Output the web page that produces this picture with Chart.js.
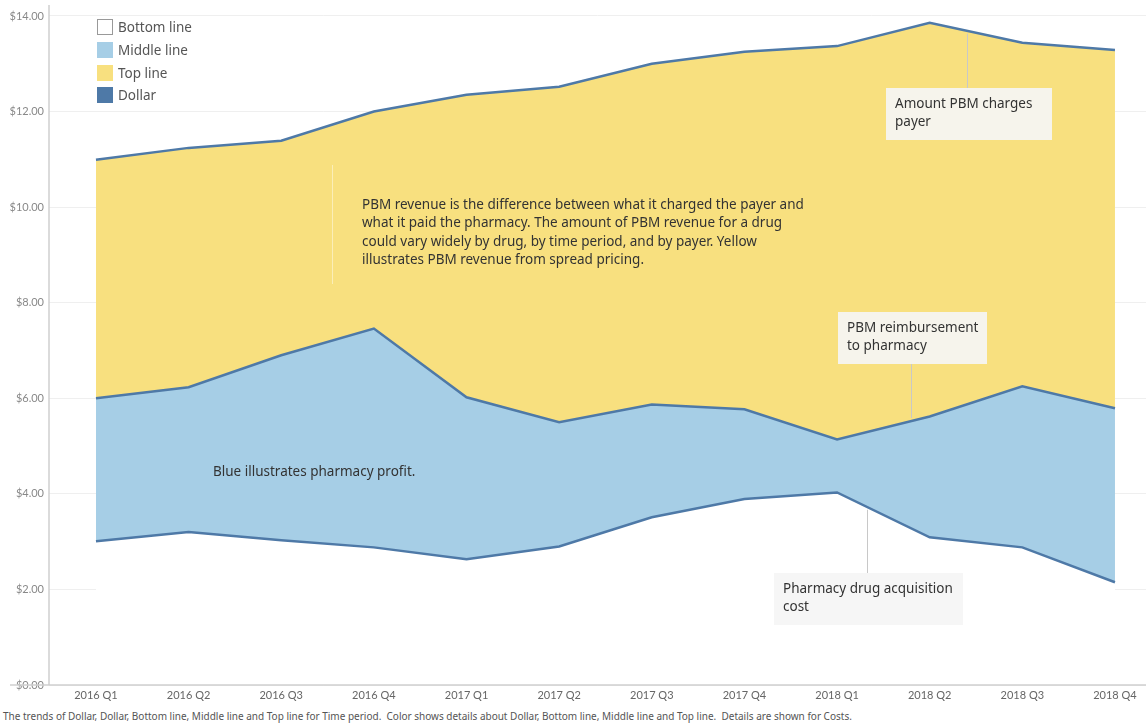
<!DOCTYPE html>
<html>
<head>
<meta charset="utf-8">
<script src="https://cdn.jsdelivr.net/npm/chart.js@4"></script>
<style>
  body { margin: 0; background: #fff; font-family: "Noto Sans", Lato, sans-serif; }
  #wrap { position: relative; width: 1148px; height: 723px; overflow: hidden; }
  #chartBox { position: absolute; left: 0; top: 0; width: 1148px; height: 705px; }
  #chartBox canvas { display: block; }
  .legend { position: absolute; left: 97px; top: 16px; font-size: 13.5px; color: #555; }
  .legend div { height: 22.7px; display: flex; align-items: center; }
  .legend span.sw { width: 16px; height: 16px; margin-right: 5px; box-sizing: border-box; }
  .note { position: absolute; font-size: 13.5px; line-height: 18.3px; color: #333; box-sizing: border-box; white-space: nowrap; }
  .note.box { background: rgba(245, 245, 245, 0.92); padding: 6px 9px; }
  .footer { position: absolute; left: 3px; top: 709px; font-size: 10px; color: #555; white-space: nowrap; }
</style>
</head>
<body>
<div id="wrap">
  <div id="chartBox"><canvas id="chart"></canvas></div>

  <div class="legend">
    <div><span class="sw" style="border:1px solid #999;background:#fff"></span>Bottom line</div>
    <div><span class="sw" style="background:#a6cee6"></span>Middle line</div>
    <div><span class="sw" style="background:#f8e07f"></span>Top line</div>
    <div><span class="sw" style="background:#4e79a7"></span>Dollar</div>
  </div>

  <div class="note" style="left:332px;top:165px;width:498px;height:119px;padding:30px 0 0 29px;border-left:1px solid rgba(255,255,255,0.45)">
    PBM revenue is the difference between what it charged the payer and<br>what it paid the pharmacy. The amount of PBM revenue for a drug<br>could vary widely by drug, by time period, and by payer. Yellow<br>illustrates PBM revenue from spread pricing.
  </div>
  <div class="note" style="left:213px;top:462px">Blue illustrates pharmacy profit.</div>
  <div class="note box" style="left:886px;top:88px;width:166px;height:52px">Amount PBM charges<br>payer</div>
  <div class="note box" style="left:838px;top:312px;width:149px;height:52px">PBM reimbursement<br>to pharmacy</div>
  <div class="note box" style="left:774px;top:573px;width:189px;height:52px">Pharmacy drug acquisition<br>cost</div>

  <div class="footer">The trends of Dollar, Dollar, Bottom line, Middle line and Top line for Time period.&nbsp; Color shows details about Dollar, Bottom line, Middle line and Top line.&nbsp; Details are shown for Costs.</div>
</div>

<script>
const quarters = ['2016 Q1', '2016 Q2', '2016 Q3', '2016 Q4', '2017 Q1', '2017 Q2',
                  '2017 Q3', '2017 Q4', '2018 Q1', '2018 Q2', '2018 Q3', '2018 Q4'];
const bottomLine = [3.01, 3.20, 3.03, 2.88, 2.63, 2.90, 3.51, 3.89, 4.03, 3.09, 2.88, 2.15];
const middleLine = [6.00, 6.23, 6.90, 7.46, 6.02, 5.50, 5.87, 5.77, 5.14, 5.62, 6.25, 5.79];
const topLine = [10.99, 11.24, 11.39, 12.00, 12.35, 12.52, 13.00, 13.25, 13.37, 13.86, 13.44, 13.29];
const yTicks = [0, 2, 4, 6, 8, 10, 12, 14];

// callouts: which series the leader starts on, where along the time axis, and the box edge it reaches
const leaders = [
  { series: topLine, at: 9.4, toY: 88 },
  { series: middleLine, at: 8.8, toY: 364 },
  { series: bottomLine, at: 8.32, toY: 573 }
];

const LINE = '#4e79a7';
const points = arr => arr.map((v, i) => ({ x: i, y: v }));

function valueAt(series, at) {
  const i = Math.floor(at), f = at - i;
  return series[i] + (series[i + 1] - series[i]) * f;
}

const extras = {
  id: 'extras',
  afterDatasetsDraw(chart) {
    const { ctx, scales: { x, y }, chartArea } = chart;
    ctx.save();
    // leader lines
    ctx.strokeStyle = '#c8c8c8';
    ctx.lineWidth = 1;
    leaders.forEach(l => {
      const px = Math.round(x.getPixelForValue(l.at)) + 0.5;
      const py = y.getPixelForValue(valueAt(l.series, l.at));
      ctx.beginPath();
      ctx.moveTo(px, py + (l.toY > py ? 3 : -3));
      ctx.lineTo(px, l.toY);
      ctx.stroke();
    });
    // axis lines
    ctx.strokeStyle = '#cfcfcf';
    ctx.lineWidth = 1.5;
    ctx.beginPath();
    ctx.moveTo(chartArea.left, chartArea.top);
    ctx.lineTo(chartArea.left, chartArea.bottom);
    ctx.moveTo(10, chartArea.bottom);
    ctx.lineTo(chartArea.right, chartArea.bottom);
    ctx.stroke();
    ctx.restore();
  }
};

const lineStyle = {
  borderColor: LINE,
  borderWidth: 2.5,
  pointRadius: 0,
  tension: 0
};

new Chart(document.getElementById('chart'), {
  type: 'line',
  data: {
    datasets: [
      { label: 'Bottom line', data: points(bottomLine), fill: 'origin', backgroundColor: '#ffffff', ...lineStyle },
      { label: 'Middle line', data: points(middleLine), fill: '-1', backgroundColor: '#a6cee6', ...lineStyle },
      { label: 'Top line', data: points(topLine), fill: '-1', backgroundColor: '#f8e07f', ...lineStyle }
    ]
  },
  options: {
    responsive: true,
    maintainAspectRatio: false,
    animation: false,
    layout: { padding: { top: 5, right: 2, left: 0, bottom: 0 } },
    plugins: {
      legend: { display: false },
      tooltip: { enabled: false }
    },
    scales: {
      x: {
        type: 'linear',
        min: -0.507,
        max: 11.335,
        afterBuildTicks: s => { s.ticks = quarters.map((q, i) => ({ value: i })); },
        afterFit: s => { s.height = 20; s.paddingLeft = 0; s.paddingRight = 0; },
        grid: { display: false, drawTicks: false, tickLength: 0 },
        border: { display: false },
        ticks: {
          autoSkip: false,
          maxRotation: 0,
          padding: 4,
          color: '#666',
          font: { family: 'Lato', size: 11 },
          callback: v => quarters[v]
        }
      },
      y: {
        min: 0,
        max: 14.23,
        afterBuildTicks: s => { s.ticks = yTicks.map(v => ({ value: v })); },
        afterFit: s => { s.width = 49; s.paddingTop = 0; s.paddingBottom = 0; },
        grid: { color: '#efefef', lineWidth: 1, drawTicks: false },
        border: { display: false },
        ticks: {
          padding: 5,
          color: '#888',
          font: { family: 'Lato', size: 11 },
          callback: v => '$' + v.toFixed(2)
        }
      }
    }
  },
  plugins: [extras]
});
</script>
</body>
</html>
